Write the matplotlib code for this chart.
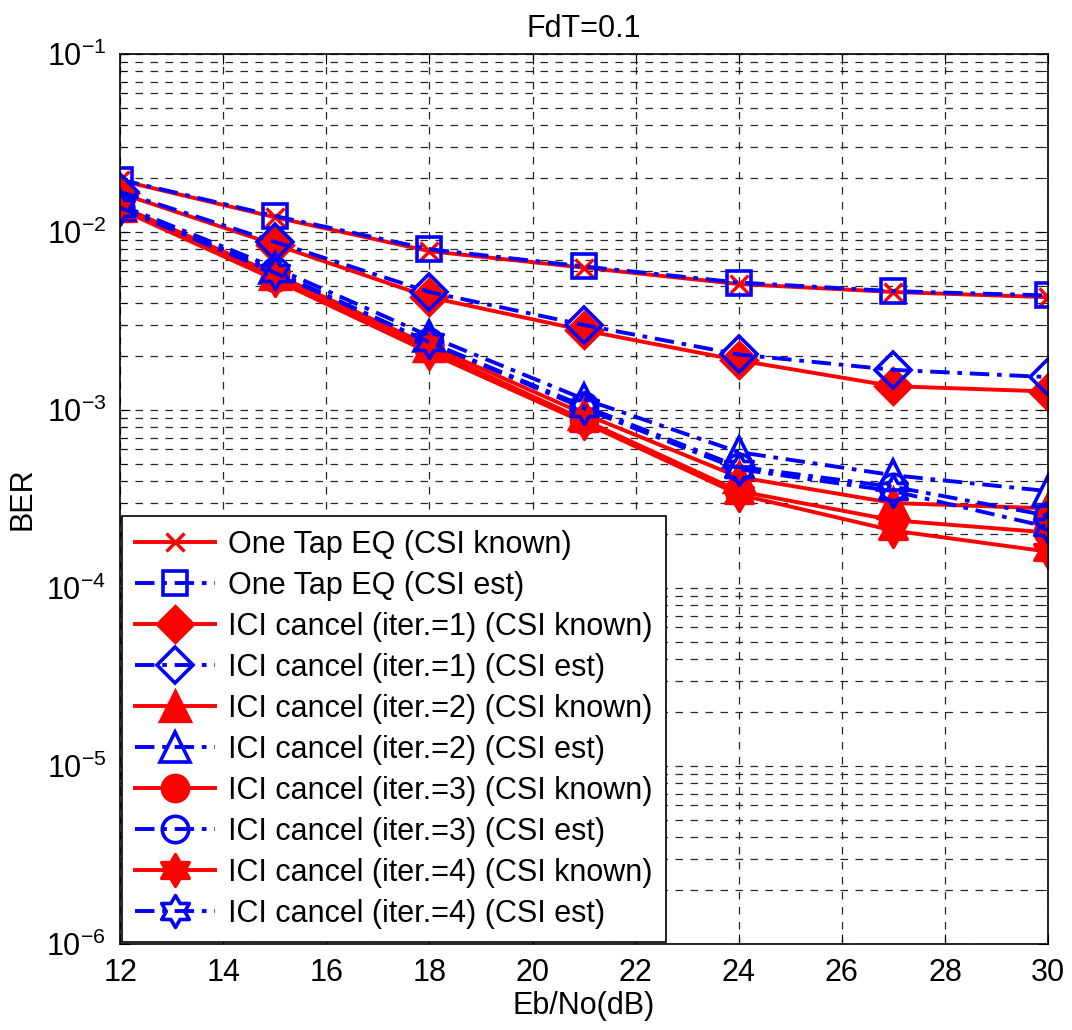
import numpy as np
import matplotlib
matplotlib.use("Agg")
import matplotlib.pyplot as plt
from matplotlib.path import Path

plt.rcParams.update({
    'font.family': 'Liberation Sans',
    'mathtext.fontset': 'custom',
    'mathtext.rm': 'Liberation Sans',
    'mathtext.it': 'Liberation Sans',
    'font.size': 22,
})

snr = [12, 15, 18, 21, 24, 27, 30]

onetap_known = [0.0195, 0.0121, 0.0078, 0.0063, 0.0051, 0.0046, 0.0043]
onetap_est = [0.0197, 0.0123, 0.0080, 0.0064, 0.0052, 0.00465, 0.0044]
ici1_known = [0.0165, 0.0085, 0.0043, 0.0028, 0.0019, 0.00136, 0.00127]
ici1_est = [0.0168, 0.0088, 0.0046, 0.0030, 0.00205, 0.00168, 0.00153]
ici2_known = [0.0140, 0.0058, 0.0023, 0.00095, 4.2e-4, 3.0e-4, 2.8e-4]
ici2_est = [0.0142, 0.0063, 0.0026, 0.00115, 5.8e-4, 4.3e-4, 3.5e-4]
ici3_known = [0.0136, 0.0055, 0.0022, 0.00088, 3.5e-4, 2.4e-4, 2.05e-4]
ici3_est = [0.0138, 0.0060, 0.0024, 0.00105, 4.8e-4, 3.7e-4, 2.55e-4]
ici4_known = [0.0134, 0.0054, 0.0021, 0.00085, 3.35e-4, 2.1e-4, 1.6e-4]
ici4_est = [0.0137, 0.0059, 0.0024, 0.00102, 4.65e-4, 3.5e-4, 2.2e-4]

labels = [
    'One Tap EQ (CSI known)',
    'One Tap EQ (CSI est)',
    'ICI cancel (iter.=1) (CSI known)',
    'ICI cancel (iter.=1) (CSI est)',
    'ICI cancel (iter.=2) (CSI known)',
    'ICI cancel (iter.=2) (CSI est)',
    'ICI cancel (iter.=3) (CSI known)',
    'ICI cancel (iter.=3) (CSI est)',
    'ICI cancel (iter.=4) (CSI known)',
    'ICI cancel (iter.=4) (CSI est)',
]

# six pointed star (two overlapping triangles)
ang_out = np.deg2rad(90 + 60 * np.arange(6))
ang_in = ang_out + np.deg2rad(30)
r_in = 1 / np.sqrt(3)
verts = []
for a, b in zip(ang_out, ang_in):
    verts.append((np.cos(a), np.sin(a)))
    verts.append((r_in * np.cos(b), r_in * np.sin(b)))
verts.append(verts[0])
codes = [Path.MOVETO] + [Path.LINETO] * 11 + [Path.CLOSEPOLY]
hexagram = Path(verts, codes)

fig = plt.figure(figsize=(10.72, 10.30), dpi=100)
ax = fig.add_axes([0.112, 0.0835, 0.8657, 0.8641])

dashdot = (5, 2, 1.2, 2)
known_style = dict(color='red', linestyle='-', linewidth=2.8, markeredgewidth=2.4)
est_style = dict(color='blue', linestyle=(0, dashdot), linewidth=2.8,
                 markeredgewidth=2.6, markerfacecolor='none')

series = [
    (onetap_known, 'x', 13, known_style),
    (onetap_est, 's', 17, est_style),
    (ici1_known, 'D', 18, known_style),
    (ici1_est, 'D', 18, est_style),
    (ici2_known, '^', 21, known_style),
    (ici2_est, '^', 21, est_style),
    (ici3_known, 'o', 19, known_style),
    (ici3_est, 'o', 19, est_style),
    (ici4_known, hexagram, 23, known_style),
    (ici4_est, hexagram, 23, est_style),
]

for (vals, mk, ms, st), lab in zip(series, labels):
    ax.semilogy(snr, vals, marker=mk, markersize=ms, label=lab, **st)

ax.set_xlim(12, 30)
ax.set_ylim(1e-6, 1e-1)
ax.set_xticks(range(12, 31, 2))
ax.grid(True, which='major', axis='both', color='black', linestyle=(0, (6, 6)), linewidth=0.9, alpha=0.85)
ax.grid(True, which='minor', axis='y', color='black', linestyle=(0, (6, 6)), linewidth=0.9, alpha=0.85)
ax.tick_params(which='both', direction='in', top=True, right=True)
ax.tick_params(which='major', length=7, labelsize=22, pad=10)
ax.tick_params(which='minor', length=4)
ax.tick_params(axis='x', which='minor', bottom=False, top=False)
for sp in ax.spines.values():
    sp.set_linewidth(1.2)

ax.set_title('FdT=0.1', fontsize=22, pad=12)
ax.set_xlabel('Eb/No(dB)', fontsize=22, labelpad=2)
ax.set_ylabel('BER', fontsize=22, labelpad=6)

leg = ax.legend(loc='lower left', bbox_to_anchor=(0, 0), borderaxespad=0.05,
                fontsize=22, handlelength=2.6, labelspacing=0.36,
                handletextpad=0.42, borderpad=0.45, fancybox=False,
                framealpha=1, edgecolor='black')
leg.get_frame().set_linewidth(1.2)

fig.savefig('out.png', dpi=100, facecolor='white')
